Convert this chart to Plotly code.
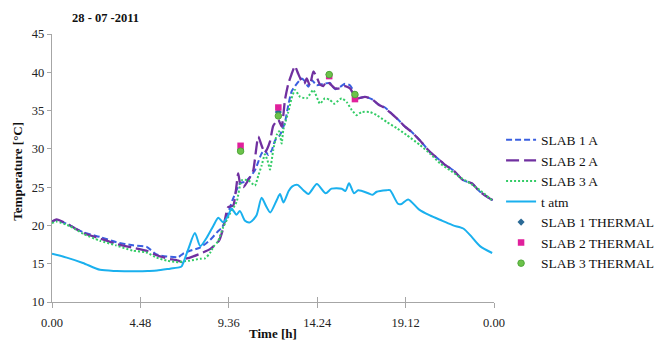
import plotly.graph_objects as go

# ---------------- data ----------------
tick_vals = [0, 4.8, 9.6, 14.4, 19.2, 24]
tick_labels = ["0.00", "4.48", "9.36", "14.24", "19.12", "0.00"]
y_ticks = [10, 15, 20, 25, 30, 35, 40, 45]

slab1_time = [0.00, 0.25, 0.98, 1.70, 2.60, 3.50, 4.40, 5.14, 5.68, 6.23, 6.86, 7.11, 7.49, 8.04, 8.58, 8.96,
              9.25, 9.50, 9.80, 10.21, 10.48, 10.75, 11.02, 11.20, 11.38, 11.56, 11.74, 11.93, 12.11, 12.38,
              12.65, 12.83, 13.01, 13.29, 13.56, 13.74, 13.92, 14.10, 14.37, 14.73, 15.09, 15.37, 15.64, 15.91,
              16.18, 16.36, 16.50, 16.63, 17.00, 17.36, 17.72, 18.08, 18.44, 18.80, 19.17, 19.53, 19.98, 20.52,
              21.07, 21.34, 21.79, 22.33, 22.79, 23.24, 23.78, 23.93]
slab1_a = [20.5, 20.7, 20.0, 19.1, 18.5, 17.8, 17.4, 17.2, 16.2, 15.95, 15.85, 16.3, 16.7, 17.1, 18.1, 19.1,
           19.8, 21.2, 23.3, 25.5, 25.7, 26.3, 27.2, 28.3, 29.4, 29.8, 29.2, 29.8, 31.1, 31.8,
           33.5, 35.7, 37.5, 38.5, 39.2, 38.8, 38.1, 39.0, 38.3, 38.5, 38.6, 37.8, 38.1, 38.5,
           38.3, 37.6, 36.9, 36.6, 36.8, 36.5, 35.8, 35.4, 34.6, 33.8, 32.9, 32.2, 31.1, 29.6,
           28.5, 27.9, 27.2, 25.9, 25.5, 24.4, 23.5, 23.3]

slab2_time = [0.00, 0.25, 0.98, 1.70, 2.60, 3.47, 4.38, 5.10, 5.68, 6.23, 6.86, 7.05, 7.20, 7.49, 8.04, 8.58,
              9.07, 9.27, 9.57, 9.84, 10.11, 10.21, 10.39, 10.75, 10.93, 11.20, 11.40, 11.56, 11.83, 12.01,
              12.29, 12.47, 12.65, 12.83, 13.00, 13.19, 13.37, 13.56, 13.70, 13.83, 14.00, 14.19, 14.37, 14.55,
              14.73, 14.91, 15.09, 15.37, 15.64, 15.91, 16.18, 16.36, 16.50, 16.63, 17.00, 17.36, 17.72, 18.08,
              18.44, 18.80, 19.17, 19.53, 19.98, 20.52, 21.07, 21.34, 21.79, 22.33, 22.79, 23.24, 23.78, 23.93]
slab2_a = [20.5, 20.8, 20.0, 19.0, 18.3, 17.6, 17.1, 16.7, 16.1, 15.7, 15.4, 15.2, 15.6, 15.8, 16.3, 16.9,
           18.0, 19.4, 22.4, 22.6, 26.8, 25.5, 25.0, 26.3, 27.2, 31.6, 30.3, 29.5, 30.9, 33.0,
           33.8, 32.9, 36.4, 38.5, 39.7, 40.8, 39.8, 38.8, 38.5, 39.2, 38.3, 40.1, 39.4, 38.4,
           38.2, 38.8, 38.5, 37.9, 37.9, 38.2, 37.9, 37.2, 36.7, 36.6, 36.8, 36.5, 35.8, 35.3,
           34.6, 33.8, 32.9, 32.2, 31.1, 29.6, 28.5, 27.9, 27.2, 25.9, 25.5, 24.4, 23.5, 23.3]

slab3_time = [0.00, 0.25, 0.98, 1.70, 2.60, 3.47, 4.38, 5.10, 5.68, 6.23, 6.86, 7.11, 7.49, 8.04, 8.31, 8.58,
              8.76, 9.01, 9.30, 9.66, 10.03, 10.30, 10.66, 11.02, 11.20, 11.38, 11.56, 11.70, 11.84, 12.01,
              12.20, 12.33, 12.47, 12.56, 12.83, 13.01, 13.19, 13.47, 13.83, 14.19, 14.55, 14.82, 15.09, 15.32,
              15.73, 16.00, 16.27, 16.54, 16.80, 17.27, 17.63, 18.18, 18.72, 19.26, 19.98, 20.52, 21.07, 21.61,
              22.15, 22.70, 23.24, 23.93]
slab3_a = [20.3, 20.5, 19.9, 18.9, 18.0, 17.4, 16.7, 16.5, 15.8, 15.4, 15.2, 15.3, 15.4, 15.65, 15.7, 16.4,
           17.2, 17.9, 19.8, 21.5, 23.1, 25.9, 25.9, 25.2, 26.5, 27.8, 29.3, 28.5, 27.3, 29.8,
           31.8, 32.3, 30.7, 32.5, 34.8, 36.6, 37.7, 36.8, 36.6, 37.7, 35.9, 36.6, 36.4, 35.9,
           36.6, 36.1, 35.1, 34.4, 34.8, 34.8, 34.4, 33.5, 32.7, 31.8, 30.5, 29.4, 28.1, 27.2,
           26.3, 25.5, 24.6, 23.2]

atm_time = [0.00, 0.80, 1.68, 2.61, 3.50, 4.40, 5.20, 5.70, 6.41, 6.95, 7.05, 7.40, 7.76, 8.05, 8.40, 8.75,
            9.03, 9.30, 9.57, 9.75, 10.02, 10.20, 10.48, 10.75, 11.10, 11.38, 11.65, 11.85, 12.20, 12.38,
            12.57, 12.85, 13.05, 13.33, 13.65, 13.92, 14.38, 14.86, 15.18, 15.73, 15.93, 16.13, 16.40, 16.63,
            17.17, 17.41, 17.63, 18.17, 18.35, 18.80, 18.98, 19.34, 19.92, 20.52, 21.20, 21.78, 22.33, 22.79,
            23.24, 23.90]
t_atm = [16.3, 15.8, 15.1, 14.2, 14.05, 14.0, 14.05, 14.1, 14.35, 14.55, 14.7, 16.9, 19.0, 17.3, 18.4, 19.9,
         21.0, 20.4, 21.3, 22.2, 21.4, 21.9, 20.6, 20.4, 21.3, 23.6, 22.4, 21.7, 23.3, 24.1,
         23.0, 24.5, 25.1, 25.3, 24.6, 24.1, 25.4, 24.2, 24.8, 24.8, 24.5, 25.5, 24.2, 24.6,
         24.2, 24.0, 24.4, 24.6, 24.6, 22.8, 22.8, 23.4, 22.1, 21.3, 20.6, 20.0, 19.6, 18.5,
         17.3, 16.4]

thermal_time = [10.24, 12.29, 15.05, 16.45]
slab1_thermal = [29.9, 34.8, 39.7, 37.0]
slab2_thermal = [30.4, 35.4, 39.5, 36.5]
slab3_thermal = [29.7, 34.3, 39.7, 37.1]

assert len(slab1_time) == len(slab1_a)
assert len(slab2_time) == len(slab2_a)
assert len(slab3_time) == len(slab3_a)
assert len(atm_time) == len(t_atm)

# ---------------- figure ----------------
SERIF = "Liberation Serif"
AXIS_GREY = "#A6A6A6"

fig = go.Figure()
fig.add_trace(go.Scatter(x=slab1_time, y=slab1_a, name="SLAB 1 A", mode="lines",
                         line=dict(color="#3A5FE0", width=2, dash="6px,3px", shape="spline", smoothing=0.5)))
fig.add_trace(go.Scatter(x=slab2_time, y=slab2_a, name="SLAB 2 A", mode="lines",
                         line=dict(color="#7030A0", width=2.3, dash="13px,5px", shape="spline", smoothing=0.5)))
fig.add_trace(go.Scatter(x=slab3_time, y=slab3_a, name="SLAB 3 A", mode="lines",
                         line=dict(color="#33CC66", width=2, dash="2px,2px", shape="spline", smoothing=0.5)))
fig.add_trace(go.Scatter(x=atm_time, y=t_atm, name="t atm", mode="lines",
                         line=dict(color="#1AB0EE", width=2, shape="spline", smoothing=0.7)))
fig.add_trace(go.Scatter(x=thermal_time, y=slab1_thermal, name="SLAB 1 THERMAL", mode="markers",
                         marker=dict(symbol="diamond", size=5.5, color="#2B6A96")))
fig.add_trace(go.Scatter(x=thermal_time, y=slab2_thermal, name="SLAB 2 THERMAL", mode="markers",
                         marker=dict(symbol="square", size=6.5, color="#E0209C")))
fig.add_trace(go.Scatter(x=thermal_time, y=slab3_thermal, name="SLAB 3 THERMAL", mode="markers",
                         marker=dict(symbol="circle", size=6.5, color="#6CC24A",
                                     line=dict(color="#4FA83A", width=1))))
# empty trace so the inside-tick overlay axis is drawn (crossing x ticks)
fig.add_trace(go.Scatter(x=[], y=[], xaxis="x2", showlegend=False, hoverinfo="skip", mode="lines"))

fig.update_layout(
    width=656, height=340,
    margin=dict(l=52, r=162, t=34, b=38, autoexpand=False),
    paper_bgcolor="white", plot_bgcolor="white",
    font=dict(family=SERIF, size=12.5, color="#222222"),
    showlegend=True,
    legend=dict(x=1.016, y=0.662, xanchor="left", yanchor="top",
                font=dict(family=SERIF, size=13.5, color="#111111"),
                bgcolor="rgba(0,0,0,0)", tracegroupgap=0),
    xaxis=dict(range=[0, 24], tickmode="array", tickvals=tick_vals, ticktext=tick_labels,
               showgrid=False, zeroline=False, showline=True, linecolor=AXIS_GREY, linewidth=1.3,
               ticks="outside", ticklen=5, tickcolor=AXIS_GREY, tickwidth=1.3,
               ticklabelstandoff=4, tickfont=dict(family=SERIF, size=12.5)),
    xaxis2=dict(range=[0, 24], overlaying="x", anchor="y", tickmode="array", tickvals=tick_vals,
                showgrid=False, zeroline=False, showline=False, showticklabels=False,
                ticks="inside", ticklen=5, tickcolor=AXIS_GREY, tickwidth=1.3, side="bottom"),
    yaxis=dict(range=[10, 45], tickmode="array", tickvals=y_ticks,
               showgrid=False, zeroline=False, showline=True, linecolor=AXIS_GREY, linewidth=1.3,
               ticks="outside", ticklen=4, tickcolor=AXIS_GREY, tickwidth=1.3,
               tickfont=dict(family=SERIF, size=12.5)),
    annotations=[
        dict(text="<b>28 - 07 -2011</b>", xref="paper", yref="paper", x=0.040, y=1.06,
             xanchor="left", yanchor="middle", showarrow=False,
             font=dict(family=SERIF, size=12.5, color="#111111")),
        dict(text="<b>Temperature [°C]</b>", xref="paper", yref="paper", x=-0.077, y=0.49,
             xanchor="center", yanchor="middle", textangle=-90, showarrow=False,
             font=dict(family=SERIF, size=13, color="#111111")),
        dict(text="<b>Time [h]</b>", xref="paper", yref="paper", x=0.5, y=-0.118,
             xanchor="center", yanchor="middle", showarrow=False,
             font=dict(family=SERIF, size=13, color="#111111")),
    ],
)

fig.write_html("out.html", config={"displayModeBar": False},
               post_script="document.body.style.margin='0';document.body.style.overflow='hidden';")
